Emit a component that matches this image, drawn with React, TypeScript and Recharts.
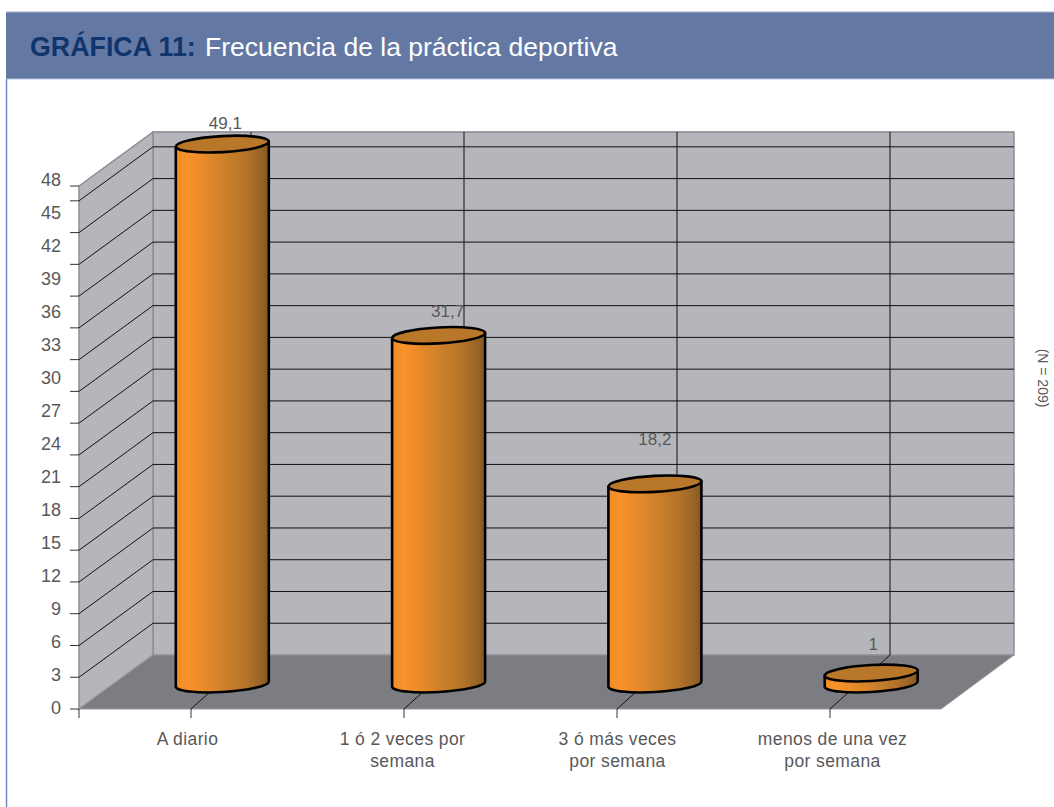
import React from "react";
import { Bar, Line, ComposedChart, XAxis, YAxis, CartesianGrid, LabelList } from "recharts";

const categories = ["A diario", "1 ó 2 veces por|semana", "3 ó más veces|por semana", "menos de una vez|por semana"];
const frequencies = [49.1, 31.7, 18.2, 1];
const yTickValues = [0, 3, 6, 9, 12, 15, 18, 21, 24, 27, 30, 33, 36, 39, 42, 45, 48];
const AXIS_TOP_VALUE = 49.4;
const BAR_AXIS_TOP = 50.2;
const rows = categories.map((c, i) => ({ name: c, value: frequencies[i] }));

const labelNudges = [
  [3, -21],
  [9, -24],
  [0, -44],
  [2, -29],
];

const DEPTH_X = 74;
const DEPTH_Y = 54;
const GRID_DEPTH_X = 60;
const FRONT_LEFT = 79;
const FRONT_RIGHT = 941;
const BASE_Y = 709;
const BACK_TOP = 132;
const BACK_LEFT = FRONT_LEFT + DEPTH_X;
const BACK_RIGHT = 1014;
const BACK_FLOOR = BASE_Y - DEPTH_Y;
const TEXT = "#58585a";
const FONT = "'Liberation Sans', Arial, sans-serif";

function HorizontalGrid(p: any) {
  const y = p.y1;
  if (y > BASE_Y - 5 || y < BACK_TOP + 5) return <g key={p.key ?? p.index} />;
  const top = y < 190;
  const col = top ? "#8f9096" : "#111";
  return (
    <polyline
      key={p.key ?? p.index}
      points={`${FRONT_LEFT},${y} ${BACK_LEFT},${y - DEPTH_Y} ${BACK_RIGHT},${y - DEPTH_Y}`}
      fill="none"
      stroke={col}
      strokeWidth={1}
    />
  );
}

function VerticalGrid(p: any) {
  const x = p.x1;
  if (x < FRONT_LEFT + 5 || x > BACK_RIGHT - 5) return <g key={p.key ?? p.index} />;
  return (
    <g key={p.key ?? p.index}>
      <line x1={x} y1={BASE_Y + 9} x2={x} y2={BASE_Y} stroke="#333" strokeWidth={1} />
      <line x1={x} y1={BASE_Y} x2={x + GRID_DEPTH_X} y2={BACK_FLOOR} stroke="#111" strokeWidth={1} />
      <line x1={x + GRID_DEPTH_X} y1={BACK_FLOOR} x2={x + GRID_DEPTH_X} y2={BACK_TOP} stroke="#111" strokeWidth={1} />
    </g>
  );
}

function YTick(p: any) {
  const { y, payload } = p;
  const v = payload.value;
  const labelled = v <= 48;
  // the printed labels run on a slightly wider pitch than the tick marks
  const labelY = BASE_Y - v * 11 - 1;
  return (
    <g>
      <line x1={FRONT_LEFT - 9} x2={FRONT_LEFT} y1={y} y2={y} stroke="#333" strokeWidth={1} />
      {labelled && (
        <text x={61} y={labelY} textAnchor="end" dominantBaseline="central" fontFamily={FONT} fontSize={18} fill={TEXT}>
          {v}
        </text>
      )}
    </g>
  );
}

function XTick(p: any) {
  const { x, payload } = p;
  const lines = String(payload.value).split("|");
  const cx = x + (x - 510.5) * 0.0094 - 0.5;
  return (
    <text textAnchor="middle" fontFamily={FONT} fontSize={17.5} fill={TEXT} letterSpacing={0.4}>
      {lines.map((l, i) => (
        <tspan key={i} x={cx} y={745 + i * 22}>
          {l}
        </tspan>
      ))}
    </text>
  );
}

function Cylinder(p: any) {
  const { x, y, width, height, index } = p;
  const tilt = 2.6;
  const rx = width / 2;
  const ry = 8;
  const b = y + height;
  const id = `cyl-${index}`;
  const arcAngle = -3.2;
  return (
    <g>
      <defs>
        <linearGradient id={id} x1="0" x2="1" y1="0" y2="0">
          <stop offset="0" stopColor="#ee8b2a" />
          <stop offset="0.12" stopColor="#f9932a" />
          <stop offset="0.25" stopColor="#ee8c2a" />
          <stop offset="0.5" stopColor="#d0822b" />
          <stop offset="0.75" stopColor="#b57429" />
          <stop offset="0.9" stopColor="#9c6627" />
          <stop offset="1" stopColor="#865722" />
        </linearGradient>
      </defs>
      <path
        d={`M${x},${y + tilt} L${x},${b + tilt} A${rx},${ry} ${arcAngle} 0 0 ${x + width},${b - tilt} L${x + width},${y - tilt} Z`}
        fill={`url(#${id})`}
        stroke="#000"
        strokeWidth={2.6}
        strokeLinejoin="round"
      />
      <ellipse
        cx={x + rx}
        cy={y}
        rx={rx}
        ry={ry}
        transform={`rotate(${arcAngle} ${x + rx} ${y})`}
        fill="#b97729"
        stroke="#000"
        strokeWidth={2.6}
      />
    </g>
  );
}

function ValueLabel(p: any) {
  const { x, y, width, value, index } = p;
  const [dx, dy] = labelNudges[index];
  return (
    <text
      x={x + width / 2 + dx}
      y={y + dy}
      textAnchor="middle"
      dominantBaseline="central"
      fontFamily={FONT}
      fontSize={17}
      fill={TEXT}
    >
      {String(value).replace(".", ",")}
    </text>
  );
}

function Backdrop() {
  return (
    <svg width={1054} height={807} style={{ position: "absolute", left: 0, top: 0 }}>
      <rect x={6} y={12} width={1048} height={67} fill="#6478a4" />
      <line x1={6} x2={1054} y1={12} y2={12} stroke="#9fb0d0" strokeWidth={1} />
      <line x1={6} x2={1054} y1={79} y2={79} stroke="#b7c6e2" strokeWidth={1} />
      <line x1={6.5} x2={6.5} y1={79} y2={807} stroke="#6f8ac6" strokeWidth={1.5} />
      <text x={30} y={56} fontFamily={FONT} fontSize={26.8}>
        <tspan fontWeight="bold" fill="#10356c">
          GRÁFICA 11:
        </tspan>
        <tspan x={205} fontSize={26.5} fill="#ffffff">
          Frecuencia de la práctica deportiva
        </tspan>
      </text>
      <polygon
        points={`${BACK_LEFT},${BACK_TOP} ${BACK_RIGHT},${BACK_TOP} ${BACK_RIGHT},${BACK_FLOOR} ${BACK_LEFT},${BACK_FLOOR}`}
        fill="#b5b6bb"
        stroke="#8f9096"
        strokeWidth={1.5}
      />
      <polygon
        points={`${FRONT_LEFT},186 ${BACK_LEFT},${BACK_TOP} ${BACK_LEFT},${BACK_FLOOR} ${FRONT_LEFT},${BASE_Y}`}
        fill="#b5b6bb"
        stroke="#8f9096"
        strokeWidth={1.5}
      />
      <polygon
        points={`${FRONT_LEFT},${BASE_Y} ${BACK_LEFT},${BACK_FLOOR} ${BACK_RIGHT},${BACK_FLOOR} ${FRONT_RIGHT},${BASE_Y}`}
        fill="#7c7d82"
        stroke="#97989e"
        strokeWidth={1}
      />
      <line x1={FRONT_LEFT} x2={FRONT_LEFT} y1={BASE_Y} y2={BASE_Y + 9} stroke="#333" strokeWidth={1} />
      <text
        transform="translate(1038,378) rotate(90)"
        textAnchor="middle"
        fontFamily={FONT}
        fontSize={14}
        fill={TEXT}
      >
        (N = 209)
      </text>
    </svg>
  );
}

export default function App() {
  return (
    <div style={{ position: "absolute", left: 0, top: 0, width: 1054, height: 807, overflow: "hidden", background: "#fff" }}>
      <Backdrop />
      <div style={{ position: "absolute", left: 0, top: 0 }}>
        <ComposedChart
          width={1054}
          height={807}
          data={rows}
          margin={{ left: FRONT_LEFT - 1, right: 40, top: BACK_TOP, bottom: 807 - BASE_Y - 1 }}
        >
          <CartesianGrid
            xAxisId="ticks"
            yAxisId="ticks"
            horizontal={(p: any) => <HorizontalGrid {...p} />}
            vertical={(p: any) => <VerticalGrid {...p} />}
            fill="none"
          />
          <XAxis
            xAxisId="ticks"
            dataKey="name"
            height={1}
            interval={0}
            padding={{ left: 5.5, right: 77.5 }}
            axisLine={false}
            tickLine={false}
            tick={(p: any) => <XTick {...p} />}
          />
          <XAxis xAxisId="bars" dataKey="name" hide padding={{ left: 34.8, right: 35 }} />
          <YAxis
            yAxisId="ticks"
            type="number"
            width={1}
            domain={[0, AXIS_TOP_VALUE]}
            ticks={[...yTickValues, AXIS_TOP_VALUE]}
            interval={0}
            padding={{ top: 54 }}
            axisLine={false}
            tickLine={false}
            tick={(p: any) => <YTick {...p} />}
          />
          <YAxis yAxisId="bars" hide domain={[0, BAR_AXIS_TOP]} padding={{ bottom: 25 }} />
          <Line
            dataKey="value"
            xAxisId="ticks"
            yAxisId="ticks"
            stroke="none"
            dot={false}
            activeDot={false}
            legendType="none"
            isAnimationActive={false}
          />
          <Bar
            dataKey="value"
            xAxisId="bars"
            yAxisId="bars"
            barSize={93}
            shape={(p: any) => <Cylinder {...p} />}
            isAnimationActive={false}
          >
            <LabelList dataKey="value" content={(p: any) => <ValueLabel {...p} />} />
          </Bar>
        </ComposedChart>
      </div>
    </div>
  );
}
